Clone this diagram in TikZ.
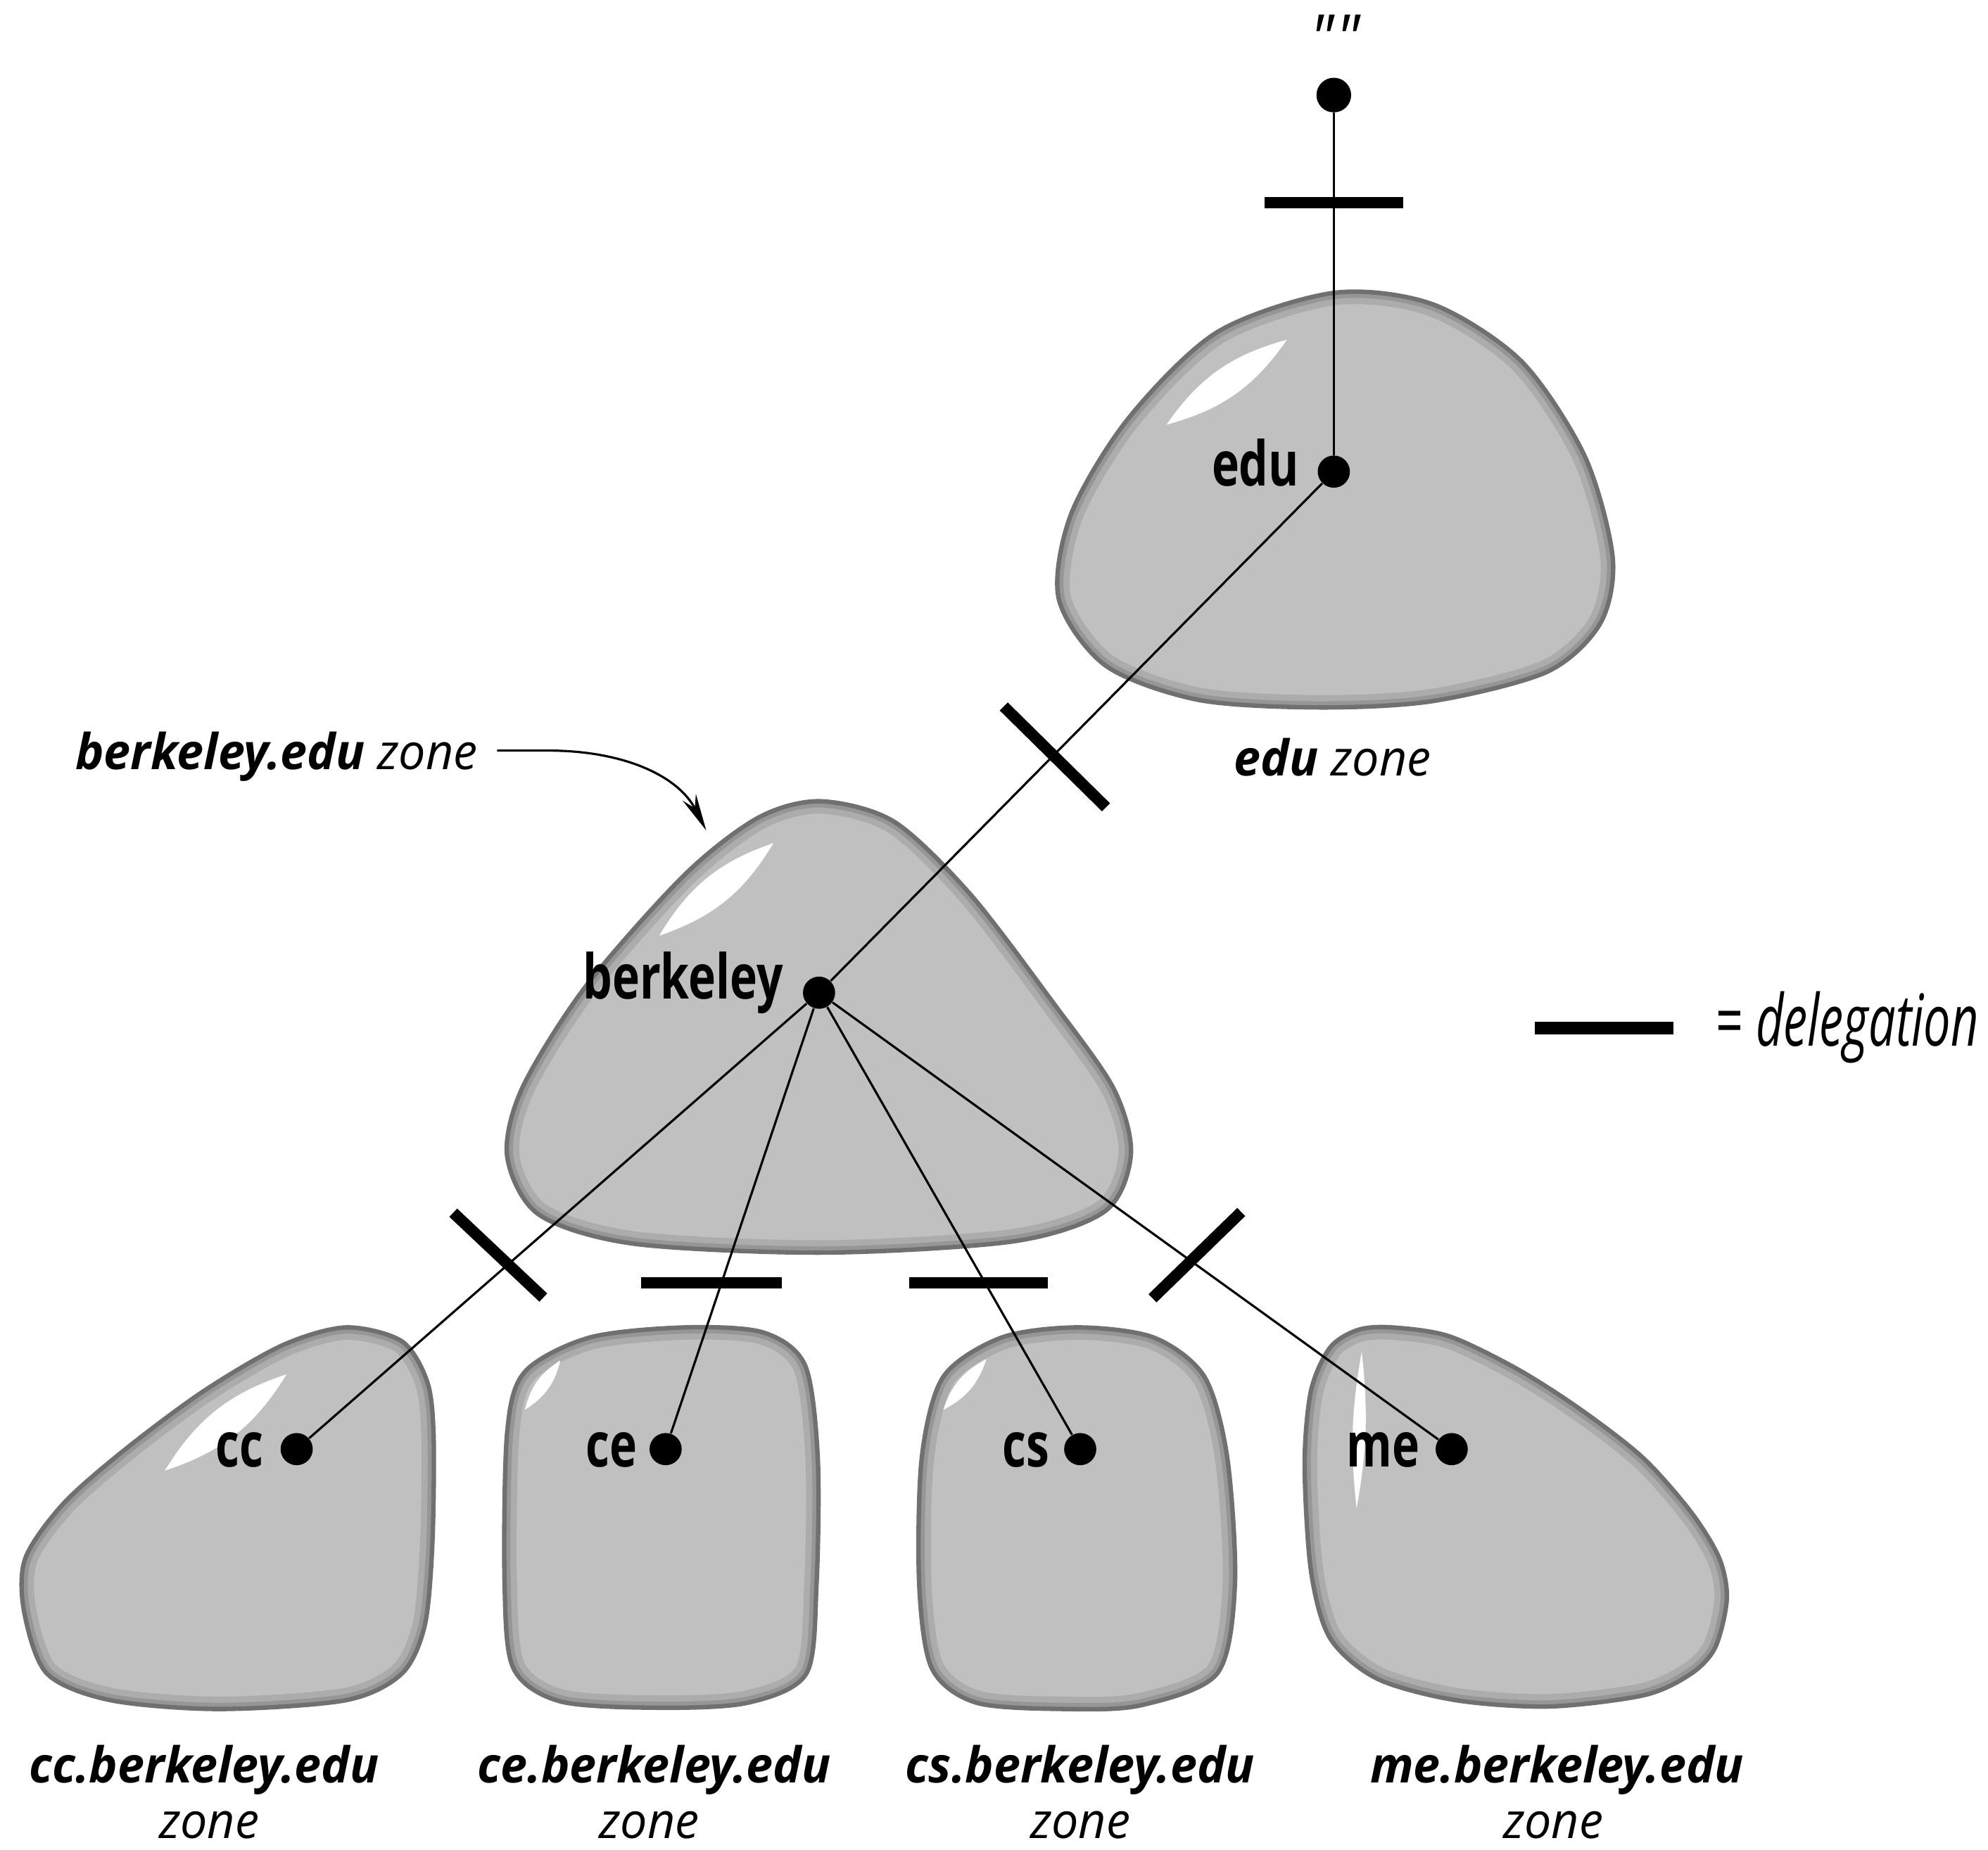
\documentclass[tikz,border=0pt]{standalone}
\usepackage{fontspec}
\setmainfont{Open Sans}
\newfontfamily\innerfont{Open Sans}[FakeStretch=0.75]
\newfontfamily\zonefont{Open Sans}[FakeStretch=0.97]
\newfontfamily\legendfont{Open Sans}[FakeStretch=0.67]
\usetikzlibrary{arrows.meta}
\definecolor{blobfill}{RGB}{192,192,192}
\definecolor{blobedge}{RGB}{112,112,112}
\definecolor{blobrimA}{RGB}{150,150,150}
\definecolor{blobrimB}{RGB}{172,172,172}
\newcommand\zoneEdu{plot[smooth cycle] coordinates {(1052,231) (1130,240) (1200,285) (1250,360) (1272,440) (1262,492) (1220,530) (1130,553) (1040,558) (945,552) (872,525) (835,472) (845,405) (890,330) (960,262)}}
\newcommand\zoneBerk{plot[smooth cycle] coordinates {(647,632) (705,648) (765,705) (830,790) (878,858) (892,910) (872,955) (800,979) (650,988) (500,981) (425,958) (400,912) (412,858) (462,778) (540,690) (598,645)}}
\newcommand\zoneCc{plot[smooth cycle] coordinates {(273,1047) (317,1058) (337,1090) (342,1133) (341,1218) (335,1282) (317,1320) (273,1341) (173,1348) (87,1341) (37,1320) (19,1271) (20,1229) (50,1186) (99,1143) (161,1097) (223,1061)}}
\newcommand\zoneCe{plot[smooth cycle] coordinates {(540,1047) (602,1051) (635,1077) (645,1150) (644,1250) (636,1320) (590,1343) (520,1347) (442,1342) (405,1316) (398,1250) (400,1130) (414,1082) (465,1055)}}
\newcommand\zoneCs{plot[smooth cycle] coordinates {(850,1047) (910,1055) (950,1086) (968,1150) (974,1250) (960,1320) (900,1345) (840,1348) (770,1343) (735,1316) (725,1250) (727,1150) (744,1086) (790,1055)}}
\newcommand\zoneMe{plot[smooth cycle] coordinates {(1098,1047) (1143,1054) (1197,1080) (1247,1112) (1296,1150) (1334,1193) (1356,1229) (1362,1261) (1353,1299) (1334,1320) (1297,1337) (1222,1346) (1148,1341) (1086,1324) (1049,1292) (1034,1239) (1029,1155) (1034,1097) (1049,1063) (1071,1049)}}
\newcommand\drawzone[1]{%
  \begin{scope}
    \clip #1;
    \fill[blobfill] #1;
    \draw[blobrimB, line width=10pt] #1;
    \draw[blobrimA, line width=5pt] #1;
  \end{scope}
  \draw[blobedge, line width=1.8pt] #1;
}
\begin{document}
\begin{tikzpicture}[x=0.018cm,y=-0.018cm,
  shine/.style={fill=white},
  dot/.style={circle, fill=black, inner sep=0pt, minimum size=13pt},
  link/.style={line width=0.9pt},
  deleg/.style={rectangle, fill=black, inner sep=0pt, minimum height=4.6pt},
  inlabel/.style={font=\innerfont\fontsize{25}{25}\selectfont\bfseries, inner sep=0pt, anchor=base east},
  zonelabel/.style={font=\zonefont\fontsize{20}{24}\selectfont, inner sep=0pt, anchor=base},
]
\useasboundingbox (0,0) rectangle (1568,1459.2);

% ---- zone blobs ----
\drawzone{\zoneEdu}
\drawzone{\zoneBerk}
\drawzone{\zoneCc}
\drawzone{\zoneCe}
\drawzone{\zoneCs}
\drawzone{\zoneMe}

% ---- highlights ----
\fill[shine] (920,335) to[bend left=20] (1015,268) to[bend left=20] (920,335);
\fill[shine] (520,738) to[bend left=20] (610,665) to[bend left=20] (520,738);
\fill[shine] (130,1160) to[bend left=20] (226,1084) to[bend left=20] (130,1160);
\fill[shine] (414,1112) to[bend left=22] (442,1073) to[bend left=22] (414,1112);
\fill[shine] (744,1112) to[bend left=22] (778,1072) to[bend left=22] (744,1112);
\fill[shine] (1070,1190) to[bend left=8] (1074,1066) to[bend left=8] (1070,1190);

% ---- domain nodes ----
\node[dot, minimum size=14pt] (root) at (1052,75) {};
\node[dot] (edu) at (1052,372) {};
\node[dot] (berk) at (646,783) {};
\node[dot] (cc) at (234,1143) {};
\node[dot] (ce) at (525,1143) {};
\node[dot] (cs) at (852,1143) {};
\node[dot] (me) at (1145,1143) {};

% ---- connectors ----
\draw[link] (root) -- (edu);
\draw[link] (edu) -- (berk);
\draw[link] (berk) -- (cc);
\draw[link] (berk) -- (ce);
\draw[link] (berk) -- (cs);
\draw[link] (berk) -- (me);

% ---- delegation bars ----
\node[deleg, minimum width=56pt] (d0) at (1052,160) {};
\node[deleg, minimum width=58pt, rotate=-44.6] (d1) at (832,597) {};
\node[deleg, minimum width=50pt, rotate=-43.3] (d2) at (393,990) {};
\node[deleg, minimum width=57pt] (d3) at (561,1012) {};
\node[deleg, minimum width=56pt] (d4) at (772,1012) {};
\node[deleg, minimum width=50pt, rotate=44.2] (d5) at (944,990) {};

% ---- inner labels ----
\node[inlabel] (tedu) at (1025,383) {edu};
\node[inlabel] (tberk) at (618,788) {berkeley};
\node[inlabel] (tcc) at (208,1157) {cc};
\node[inlabel] (tce) at (503,1157) {ce};
\node[inlabel] (tcs) at (828,1157) {cs};
\node[inlabel] (tme) at (1120,1157) {me};

% ---- root label ----
\node[font=\zonefont\fontsize{26}{26}\selectfont\itshape, inner sep=0pt] (troot) at (1053,30) {"\kern1pt"};

% ---- zone labels ----
\node[zonelabel] (zedu) at (1051,612) {\textbf{\textit{edu}} \textit{zone}};
\node[zonelabel] (zberk) at (218,607) {\textbf{\textit{berkeley.edu}} \textit{zone}};
\node[zonelabel] (zcc) at (161,1406) {\textbf{\textit{cc.berkeley.edu}}};
\node[zonelabel] (zcc2) at (165,1450) {\textit{zone}};
\node[zonelabel] (zce) at (516,1406) {\textbf{\textit{ce.berkeley.edu}}};
\node[zonelabel] (zce2) at (512,1450) {\textit{zone}};
\node[zonelabel] (zcs) at (852,1406) {\textbf{\textit{cs.berkeley.edu}}};
\node[zonelabel] (zcs2) at (852,1450) {\textit{zone}};
\node[zonelabel] (zme) at (1228,1406) {\textbf{\textit{me.berkeley.edu}}};
\node[zonelabel] (zme2) at (1225,1450) {\textit{zone}};

% ---- pointer arrow ----
\coordinate (bzfrom) at (392,592);
\coordinate (bzto) at (557,655);
\draw[link, -{Stealth[length=15pt,width=6pt]}] (bzfrom) -- (432,592) .. controls (492,592) and (535,612) .. (bzto);

% ---- legend ----
\node[deleg, minimum width=56pt, minimum height=5pt] (legbar) at (1265,811) {};
\node[font=\legendfont\fontsize{29}{29}\selectfont, inner sep=0pt, anchor=base west] (legtext) at (1353,825) {= \textit{delegation}};
\end{tikzpicture}
\end{document}
